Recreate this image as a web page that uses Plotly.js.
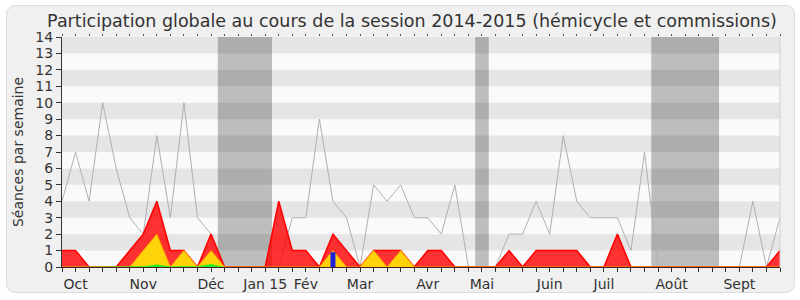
<!DOCTYPE html>
<html>
<head>
<meta charset="utf-8">
<script src="https://cdn.plot.ly/plotly-3.0.1.min.js"></script>
<style>
  html, body { margin: 0; padding: 0; background: #ffffff; }
  #frame { position: absolute; left: 6px; top: 5px; width: 787px; height: 286px;
           background: #f0f0f0; border: 1px solid #dcdcdc; border-radius: 9px; }
  #chart { position: absolute; left: 0; top: 0; width: 800px; height: 300px; }
</style>
</head>
<body>
<div id="frame"></div>
<div id="chart"></div>
<script>
// Weekly values, session 2014-2015 (week 0 = first week of October)
const total  = [4,7,4,10,6,3,2,8,3,10,3,2,0,0,0,0,0,3,3,9,4,3,0,5,4,5,3,3,2,5,0,0,0,2,2,4,2,8,4,3,3,3,1,7,0,0,0,0,0,0,0,4,0,3];
const red    = [1,1,0,0,0,1,2,4,1,1,0,2,0,0,0,0,4,1,1,0,2,1,0,1,1,1,0,1,1,0,0,0,0,1,0,1,1,1,1,0,0,2,0,0,0,0,0,0,0,0,0,0,0,1];
const yellow = [0,0,0,0,0,0,1,2,0,1,0,1,0,0,0,0,0,0,0,0,1,0,0,1,0,1,0,0,0,0,0,0,0,0,0,0,0,0,0,0,0,0,0,0,0,0,0,0,0,0,0,0,0,0];
const green  = [0,0,0,0,0,0,0.04,0.15,0.03,0.06,0.03,0.18,0,0,0,0,0,0,0,0,0.03,0,0,0.03,0.03,0.03,0,0,0,0,0,0,0,0,0,0,0,0,0,0,0,0,0,0,0,0,0,0,0,0,0,0,0,0];
const blueWeek = 20;
const blueValue = 0.9;
const monthWeeks  = [1, 6, 11, 15, 18, 22, 27, 31, 36, 40, 45, 50];
const monthLabels = ["Oct", "Nov", "Déc", "Jan 15", "Fév", "Mar", "Avr", "Mai", "Juin", "Juil", "Août", "Sept"];
const vacations = [[11.5, 15.5], [30.5, 31.5], [43.5, 48.5]];

const weeks = total.map((_, i) => i);
const tickText = weeks.map(w => {
  const k = monthWeeks.indexOf(w);
  return k >= 0 ? monthLabels[k] : "";
});

const FONT = "DejaVu Sans, Verdana, sans-serif";

const shapes = [];
// horizontal stripes
for (let y = 1; y < 14; y += 2) {
  shapes.push({type: "rect", xref: "paper", yref: "y", x0: 0, x1: 1, y0: y, y1: y + 1,
               fillcolor: "#e5e5e5", line: {width: 0}, layer: "below"});
}
// vacation bands
vacations.forEach(v => {
  shapes.push({type: "rect", xref: "x", yref: "y", x0: v[0], x1: v[1], y0: 0, y1: 14,
               fillcolor: "rgba(0,0,0,0.245)", line: {width: 0}, layer: "below"});
});
// right border
shapes.push({type: "line", xref: "paper", yref: "paper", x0: 1, x1: 1, y0: 0, y1: 1,
             line: {color: "#cfcfcf", width: 1}, layer: "above"});

const traces = [
  {x: weeks, y: total, type: "scatter", mode: "lines",
   line: {color: "#b0b0b0", width: 1}, hoverinfo: "skip", showlegend: false},
  {x: weeks, y: red, type: "scatter", mode: "lines", fill: "tozeroy",
   fillcolor: "rgba(255,0,0,0.8)", line: {color: "#ff0000", width: 1.5},
   hoverinfo: "skip", showlegend: false},
  {x: weeks, y: yellow, type: "scatter", mode: "lines", fill: "tozeroy",
   fillcolor: "#ffd30a", line: {color: "#ffa500", width: 1},
   hoverinfo: "skip", showlegend: false},
  {x: weeks, y: green, type: "scatter", mode: "lines", fill: "tozeroy",
   fillcolor: "#22ee22", line: {color: "#22ee22", width: 0},
   hoverinfo: "skip", showlegend: false},
  {x: [blueWeek, blueWeek], y: [0, blueValue], type: "scatter", mode: "lines",
   line: {color: "#2020dd", width: 5}, hoverinfo: "skip", showlegend: false},
  {x: [0, 53], y: [null, null], xaxis: "x2", type: "scatter", mode: "lines",
   hoverinfo: "skip", showlegend: false}
];

const layout = {
  width: 800, height: 300,
  margin: {l: 62, r: 20, t: 37, b: 33},
  paper_bgcolor: "rgba(0,0,0,0)",
  plot_bgcolor: "#fafafa",
  font: {family: FONT, color: "#333333", size: 14},
  title: {text: "Participation globale au cours de la session 2014-2015 (hémicycle et commissions)",
          font: {family: FONT, size: 17.5, color: "#333333"},
          x: 0.515, xanchor: "center", xref: "container",
          y: 0.93, yanchor: "middle", yref: "container"},
  xaxis: {range: [0, 53], tickvals: weeks, ticktext: tickText, tickmode: "array",
          ticks: "outside", ticklen: 4, tickcolor: "#333333", tickwidth: 1,
          showline: true, linecolor: "#4a2020", linewidth: 1,
          showgrid: false, zeroline: false, fixedrange: true,
          tickfont: {family: FONT, size: 14, color: "#333333"}, tickangle: 0},
  xaxis2: {range: [0, 53], overlaying: "x", side: "top", anchor: "y",
           tickvals: weeks, tickmode: "array", ticks: "outside", ticklen: 2,
           tickcolor: "#555555", showticklabels: false, showline: false,
           showgrid: false, zeroline: false},
  yaxis: {range: [0, 14], dtick: 1, tick0: 0, ticks: "outside", ticklen: 5,
          tickcolor: "#333333", showline: true, linecolor: "#333333", linewidth: 1,
          showgrid: false, zeroline: false, fixedrange: true,
          tickfont: {family: FONT, size: 14, color: "#333333"},
          title: {text: "Séances par semaine", font: {family: FONT, size: 14, color: "#333333"}, standoff: 8}},
  shapes: shapes,
  showlegend: false
};

Plotly.newPlot("chart", traces, layout, {displayModeBar: false, staticPlot: true});
</script>
</body>
</html>
